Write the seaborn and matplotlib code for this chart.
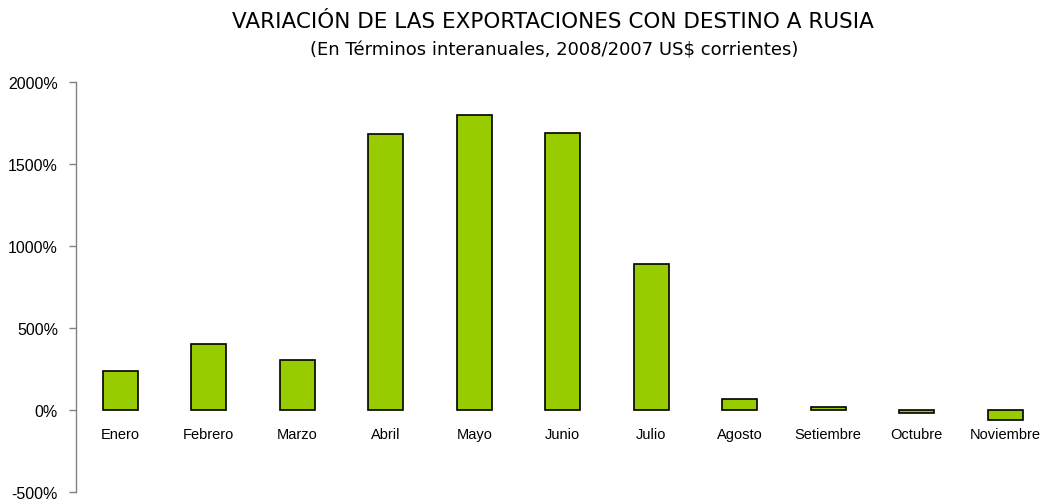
import matplotlib
matplotlib.use("Agg")
import matplotlib.pyplot as plt
import seaborn as sns
import pandas as pd
from matplotlib.ticker import FuncFormatter

# data
meses = ["Enero", "Febrero", "Marzo", "Abril", "Mayo", "Junio", "Julio",
         "Agosto", "Setiembre", "Octubre", "Noviembre"]
variacion = [237, 404, 305, 1679, 1797, 1687, 887, 67, 18, -20, -61]
y_ticks = [-500, 0, 500, 1000, 1500, 2000]

df = pd.DataFrame({"Mes": meses, "Variacion": variacion})

sns.set_style("white")
plt.rcParams["font.family"] = ["Liberation Sans", "DejaVu Sans"]

fig = plt.figure(figsize=(10.43, 5.02), dpi=100)
ax = fig.add_axes([76 / 1043, 8.7 / 502, 973.5 / 1043, 410.6 / 502])

sns.barplot(data=df, x="Mes", y="Variacion", order=meses, color="#99CC00",
            saturation=1, width=0.4, edgecolor="black", linewidth=1.2, ax=ax)

ax.set_xlim(-0.5, len(meses) - 0.5)
ax.set_ylim(-500, 2000)
ax.set_yticks(y_ticks)
ax.yaxis.set_major_formatter(FuncFormatter(lambda v, p: f"{v:.0f}%"))
ax.set_xlabel("")
ax.set_ylabel("")

# category labels sit right under the zero line, no visible x axis
for s in ["top", "right"]:
    ax.spines[s].set_visible(False)
ax.spines["bottom"].set_position(("data", 0))
ax.spines["bottom"].set_color("none")
ax.spines["left"].set_color("#808080")
ax.spines["left"].set_linewidth(1)
ax.tick_params(axis="x", length=0, pad=12, labelsize=10.5, labelcolor="black")
ax.tick_params(axis="y", direction="out", length=5, width=1, color="#808080",
               labelsize=11.5, pad=8, left=True, labelcolor="black")

fig.text(0.530, 0.957, "VARIACIÓN DE LAS EXPORTACIONES CON DESTINO A RUSIA",
         ha="center", va="center", fontsize=15.5, family="DejaVu Sans",
         color="black", fontweight="medium")
fig.text(0.531, 0.900, "(En Términos interanuales, 2008/2007 US$ corrientes)",
         ha="center", va="center", fontsize=13, family="DejaVu Sans",
         color="black")

fig.savefig("out.png", dpi=100)
